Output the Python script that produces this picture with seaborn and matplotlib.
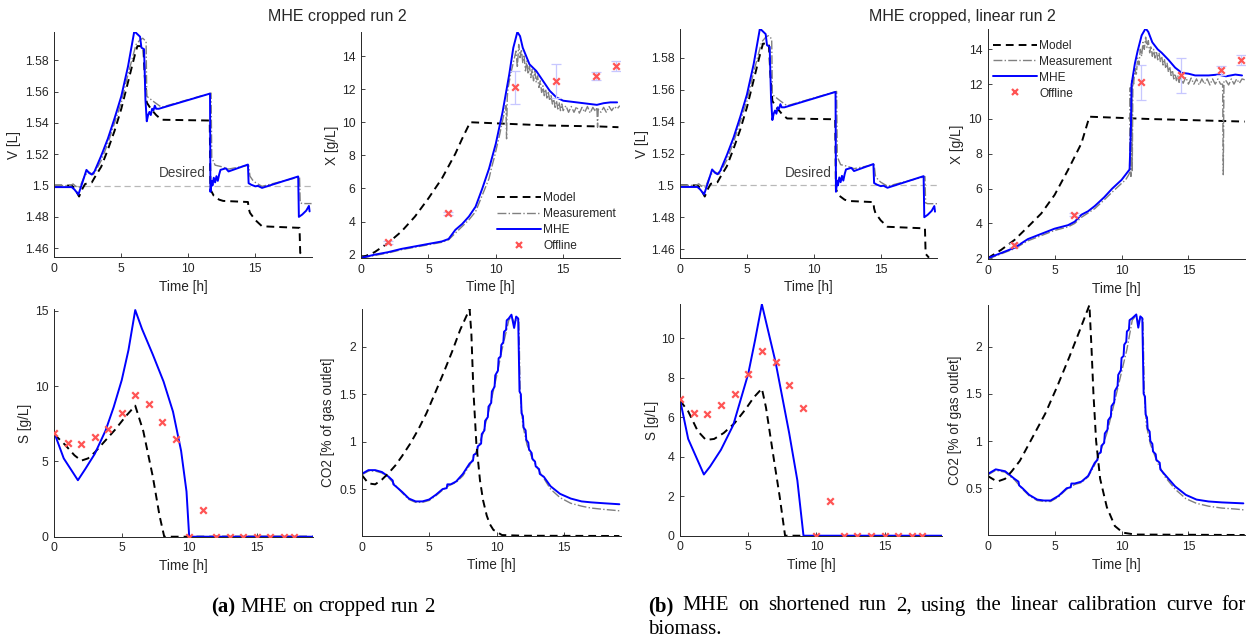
import matplotlib
matplotlib.use("Agg")
import numpy as np
import pandas as pd
import seaborn as sns
import matplotlib.pyplot as plt
from matplotlib.lines import Line2D
from matplotlib.ticker import FuncFormatter

# ---------------- DATA ----------------
# Volume (same in both runs)
v_mhe_t = [0, 1.3, 1.5, 1.8, 2.1, 2.4, 2.6, 2.8, 3.0, 3.5, 4.0, 4.5, 5.0, 5.5, 5.97, 6.4, 6.5, 6.7, 6.8, 6.9,
           7.0, 7.1, 7.2, 7.3, 7.4, 7.5, 7.6, 7.8, 11.62, 11.65, 11.75, 11.8, 11.9, 12.0, 12.1, 12.2, 12.3,
           12.4, 12.8, 13.0, 14.45, 14.5, 14.7, 15.0, 15.2, 15.5, 18.2, 18.25, 18.5, 18.8, 19.0, 19.05]
v_mhe = [1.499, 1.499, 1.4975, 1.4943, 1.502, 1.510, 1.508, 1.507, 1.509, 1.519, 1.530, 1.543, 1.557, 1.576,
         1.5985, 1.595, 1.588, 1.587, 1.555, 1.541, 1.545, 1.547, 1.545, 1.549, 1.548, 1.551, 1.549, 1.549,
         1.5587, 1.496, 1.503, 1.500, 1.505, 1.502, 1.506, 1.503, 1.507, 1.510, 1.511, 1.509, 1.5134, 1.5015,
         1.5005, 1.4995, 1.4998, 1.4985, 1.5058, 1.480, 1.4815, 1.484, 1.487, 1.4835]
v_meas_t = [0, 1.2, 1.4, 1.6, 1.9, 2.2, 2.5, 2.7, 2.9, 3.0, 3.5, 4.0, 4.5, 5.0, 5.5, 6.1, 6.4, 6.6, 6.85, 6.9,
            7.2, 7.5, 8.0, 11.7, 11.75, 11.85, 12.0, 12.5, 13.0, 14.5, 14.6, 14.8, 15.0, 15.5, 18.3, 18.35,
            18.5, 19.2]
v_meas = [1.5, 1.5, 1.501, 1.4995, 1.499, 1.505, 1.509, 1.508, 1.507, 1.508, 1.516, 1.527, 1.540, 1.553,
          1.571, 1.590, 1.593, 1.594, 1.592, 1.557, 1.555, 1.553, 1.550, 1.559, 1.518, 1.516, 1.513, 1.512,
          1.5105, 1.513, 1.506, 1.5035, 1.502, 1.4995, 1.5055, 1.489, 1.4885, 1.4885]
v_mod_t = [0, 1.3, 1.5, 1.85, 2.1, 2.3, 2.8, 3.0, 3.5, 4.0, 4.5, 5.0, 5.5, 6.0, 6.2, 6.64, 6.75, 6.9, 7.2,
           7.6, 8.0, 11.6, 11.65, 11.9, 12.3, 12.6, 14.45, 14.5, 14.6, 15.0, 15.5, 18.3, 18.35, 18.6]
v_mod = [1.5, 1.5, 1.4985, 1.493, 1.498, 1.501, 1.502, 1.505, 1.512, 1.523, 1.535, 1.549, 1.566, 1.583,
         1.589, 1.589, 1.570, 1.553, 1.549, 1.545, 1.542, 1.5415, 1.4975, 1.4935, 1.491, 1.4902, 1.4895,
         1.4855, 1.4826, 1.478, 1.474, 1.473, 1.457, 1.4546]
v_desired = 1.5

# Biomass, run (a)
xa_mod_t = [0, 1, 2, 3, 4, 5, 6, 7, 7.5, 8.1, 11, 14, 17.5, 19.1]
xa_mod = [1.8, 2.15, 2.7, 3.4, 4.3, 5.4, 6.6, 8.1, 9.0, 10.0, 9.9, 9.8, 9.75, 9.7]
xa_mhe_t = [0, 1, 2, 3, 4, 5, 6, 6.5, 7, 7.5, 8, 8.5, 9, 9.5, 10, 10.5, 11, 11.3, 11.6, 11.8, 12, 12.5,
            13, 13.5, 14, 14.5, 15, 16, 17, 17.5, 18, 18.5, 19]
xa_mhe = [1.8, 2.0, 2.15, 2.35, 2.5, 2.65, 2.8, 2.95, 3.5, 3.85, 4.3, 4.9, 6.0, 7.2, 8.7, 10.6, 12.9, 14.5,
          15.45, 15.2, 14.5, 13.5, 13.1, 12.5, 11.9, 11.5, 11.3, 11.2, 11.1, 11.05, 11.15, 11.2, 11.2]
xa_meas_t = [0, 1, 2, 3, 4, 5, 6, 6.5, 7, 7.5, 8, 8.5, 9, 9.3, 9.5, 9.7, 9.9, 10.1, 10.3, 10.5, 10.75, 10.8,
             10.85, 10.9, 11.1, 11.3, 11.5, 11.6, 11.7, 11.8, 11.9, 12.0, 12.1, 12.2, 12.3, 12.4, 12.5, 12.6,
             12.7, 12.8, 12.9, 13.0, 13.1, 13.2, 13.3, 13.4, 13.5, 13.6, 13.7, 13.8, 13.9, 14.0, 14.1, 14.2,
             14.3, 14.4, 14.5, 14.6, 14.7, 14.8, 14.9, 15.0, 15.2, 15.4, 15.6, 15.8, 16.0, 16.2, 16.4, 16.6,
             16.8, 17.0, 17.2, 17.4, 17.5, 17.55, 17.6, 17.8, 18.0, 18.2, 18.4, 18.6, 18.8, 19.0, 19.2]
xa_meas = [1.8, 1.95, 2.1, 2.3, 2.45, 2.6, 2.75, 2.9, 3.3, 3.7, 4.1, 4.6, 5.6, 6.2, 6.6, 7.3, 7.9, 8.6, 9.3,
           10.1, 11.0, 9.0, 11.5, 12.0, 12.9, 13.6, 14.3, 13.3, 14.7, 13.9, 14.4, 13.6, 14.0, 13.1, 13.7,
           12.9, 13.4, 12.7, 13.2, 12.5, 13.1, 12.4, 12.8, 12.1, 12.5, 11.8, 12.2, 11.6, 12.0, 11.4, 11.8,
           11.3, 11.6, 11.1, 11.4, 10.9, 11.3, 10.8, 11.2, 10.7, 11.1, 10.7, 11.0, 10.6, 10.95, 10.6, 10.95,
           10.55, 10.9, 10.6, 10.95, 10.55, 10.9, 10.65, 10.9, 9.7, 10.8, 10.6, 10.9, 10.6, 10.95, 10.7,
           10.95, 10.8, 11.0]

# Biomass, run (b)
xb_mod_t = [0, 1, 2, 3, 4, 5, 6, 7, 7.6, 12, 19.2]
xb_mod = [2.0, 2.48, 3.05, 3.8, 4.57, 5.64, 7.07, 8.6, 10.13, 10.0, 9.85]
xb_mhe_t = [0, 1, 2, 3, 4, 5, 6, 6.5, 7.0, 7.5, 8, 8.7, 9.3, 10, 10.6, 10.7, 10.75, 11.0, 11.2, 11.5, 11.8,
            12.0, 12.3, 12.7, 13.0, 13.5, 14.0, 14.5, 15.0, 15.5, 16.5, 17.2, 17.8, 18.5, 19.0]
xb_mhe = [2.0, 2.3, 2.6, 3.1, 3.4, 3.7, 3.9, 4.1, 4.5, 4.7, 5.0, 5.5, 6.0, 6.5, 7.1, 9.5, 12.0, 13.2, 13.9,
          14.8, 15.2, 15.0, 14.4, 14.0, 13.8, 13.4, 12.95, 12.65, 12.6, 12.5, 12.5, 12.55, 12.45, 12.55, 12.5]
xb_meas_t = [0, 1, 2, 3, 4, 5, 6, 6.5, 7, 7.5, 8, 8.7, 9.3, 10, 10.3, 10.5, 10.6, 10.65, 10.7, 10.75, 10.8,
             10.85, 10.9, 11.0, 11.1, 11.2, 11.3, 11.4, 11.5, 11.6, 11.7, 11.8, 11.9, 12.0, 12.1, 12.2, 12.3,
             12.4, 12.5, 12.6, 12.7, 12.8, 12.9, 13.0, 13.1, 13.2, 13.3, 13.4, 13.5, 13.6, 13.7, 13.8, 13.9,
             14.0, 14.1, 14.2, 14.3, 14.4, 14.6, 14.8, 15.0, 15.2, 15.4, 15.6, 15.8, 16.0, 16.2, 16.4, 16.6,
             16.8, 17.0, 17.2, 17.4, 17.55, 17.6, 17.65, 17.8, 18.0, 18.2, 18.4, 18.6, 18.8, 19.0, 19.2]
xb_meas = [1.95, 2.25, 2.55, 3.0, 3.3, 3.6, 3.8, 4.0, 4.35, 4.6, 4.85, 5.35, 5.8, 6.3, 6.5, 6.75, 6.9, 11.8,
           6.7, 12.2, 7.0, 12.5, 12.0, 12.9, 12.5, 13.5, 13.1, 14.0, 13.6, 14.4, 14.0, 14.7, 14.1, 14.5,
           13.8, 14.2, 13.6, 14.0, 13.5, 13.9, 13.4, 13.8, 13.3, 13.6, 13.1, 13.45, 12.9, 13.2, 12.7, 13.0,
           12.5, 12.8, 12.3, 12.6, 12.2, 12.5, 12.1, 12.45, 12.05, 12.4, 12.0, 12.35, 12.0, 12.3, 11.95,
           12.3, 12.0, 12.3, 11.95, 12.3, 12.0, 12.3, 12.0, 12.0, 6.8, 12.2, 12.2, 11.95, 12.3, 12.0, 12.3,
           12.05, 12.3, 12.25]

# Offline biomass samples (both runs)
x_off_t = [2.0, 6.45, 11.45, 14.45, 17.4, 18.9]
x_off = [2.75, 4.5, 12.1, 12.5, 12.8, 13.4]
x_off_err = [0.1, 0.1, 1.0, 1.03, 0.25, 0.3]

# Substrate offline samples (both runs)
s_off_t = [0, 1, 2, 3, 4, 5, 6, 7, 8, 9, 10, 11, 12, 13, 14, 15, 16, 17, 17.75]
s_off = [6.9, 6.2, 6.18, 6.6, 7.17, 8.2, 9.38, 8.8, 7.63, 6.46, 0, 1.76, 0, 0, 0, 0, 0, 0, 0]

# Substrate, run (a)
sa_mhe_t = [0, 0.7, 1.75, 2.3, 3.0, 3.8, 4.4, 5.0, 5.5, 6.0, 6.5, 7.3, 8.1, 8.8, 9.4, 9.8, 10.0, 19.2]
sa_mhe = [6.9, 5.2, 3.75, 4.5, 5.5, 7.05, 8.6, 10.4, 12.4, 15.05, 13.8, 12.1, 10.3, 8.3, 5.7, 3.0, 0.0, 0.0]
sa_mod_t = [0, 0.8, 1.5, 2.0, 2.5, 3.0, 3.7, 4.5, 5.3, 6.0, 6.6, 7.3, 7.8, 8.15, 10.0, 19.2]
sa_mod = [6.8, 6.1, 5.4, 5.05, 5.2, 5.6, 6.3, 7.1, 8.0, 8.7, 7.0, 4.0, 1.4, 0.0, 0.0, 0.0]

# Substrate, run (b)
sb_mhe_t = [0, 0.6, 1.75, 2.2, 3.0, 3.9, 5.0, 5.5, 6.0, 7.0, 8.0, 8.6, 9.05, 19.2]
sb_mhe = [6.9, 4.9, 3.1, 3.5, 4.35, 5.6, 8.2, 9.9, 11.72, 8.8, 5.2, 2.8, 0.0, 0.0]
sb_mod_t = [0, 0.6, 1.3, 1.9, 2.5, 3.2, 4.0, 4.8, 5.4, 6.0, 6.3, 6.85, 7.3, 7.7, 9.05]
sb_mod = [6.85, 6.3, 5.3, 4.85, 4.9, 5.2, 5.7, 6.4, 7.0, 7.45, 6.5, 4.0, 2.0, 0.0, 0.0]

# CO2, run (a)
ca_mod_t = [0, 0.5, 1.0, 1.5, 2.0, 2.5, 3.0, 3.6, 4.2, 4.8, 5.4, 6.05, 6.7, 7.3, 8.0, 8.13, 8.28, 8.5, 8.77,
            9.0, 9.27, 9.5, 9.76, 10.4, 12, 19.1]
ca_mod = [0.65, 0.56, 0.55, 0.6, 0.67, 0.75, 0.85, 0.98, 1.13, 1.3, 1.5, 1.72, 1.95, 2.18, 2.4, 2.14, 1.54,
          0.98, 0.59, 0.38, 0.22, 0.13, 0.07, 0.015, 0.008, 0.005]
ca_mhe_t = [0, 0.5, 1.0, 1.5, 2.0, 2.3, 2.35, 2.6, 3.0, 3.5, 4.0, 4.5, 5.0, 5.5, 6.0, 6.3, 6.35, 6.6, 7.0,
            7.5, 8.0, 8.25, 8.3, 8.55, 8.6, 8.85, 8.9, 9.1, 9.15, 9.35, 9.4, 9.6, 9.65, 9.85, 9.9, 10.1,
            10.15, 10.3, 10.35, 10.5, 10.55, 10.7, 10.75, 10.9, 11.1, 11.3, 11.45, 11.6, 11.7, 11.8, 11.85,
            11.95, 12.0, 12.15, 12.2, 12.35, 12.4, 12.6, 12.65, 12.85, 12.9, 13.15, 13.2, 13.5, 14.0, 14.7,
            15.5, 16.3, 17.0, 18.0, 19.1]
ca_mhe = [0.66, 0.70, 0.70, 0.68, 0.63, 0.59, 0.55, 0.52, 0.47, 0.40, 0.37, 0.37, 0.39, 0.44, 0.50, 0.51,
          0.55, 0.55, 0.58, 0.66, 0.77, 0.80, 0.86, 0.88, 0.95, 0.98, 1.08, 1.12, 1.22, 1.26, 1.37, 1.41,
          1.53, 1.58, 1.70, 1.75, 1.88, 1.90, 2.02, 2.05, 2.16, 2.18, 2.28, 2.30, 2.34, 2.2, 2.32, 2.3, 1.53,
          1.50, 1.30, 1.27, 1.15, 1.12, 1.02, 0.99, 0.92, 0.88, 0.82, 0.79, 0.74, 0.71, 0.66, 0.63, 0.53,
          0.45, 0.40, 0.37, 0.36, 0.35, 0.34]
ca_meas_t = [0, 0.5, 1.0, 1.5, 2.0, 2.5, 3.0, 3.5, 4.0, 4.5, 5.0, 5.5, 6.0, 6.5, 7.0, 7.5, 8.0, 8.5, 9.0,
             9.5, 10.0, 10.4, 10.9, 11.1, 11.3, 11.5, 11.65, 11.75, 11.95, 12.25, 12.65, 13.25, 14.0, 14.7,
             15.5, 16.3, 17.0, 18.0, 19.2]
ca_meas = [0.65, 0.69, 0.69, 0.67, 0.62, 0.54, 0.46, 0.39, 0.36, 0.36, 0.38, 0.43, 0.49, 0.54, 0.57, 0.64,
           0.75, 0.9, 1.09, 1.37, 1.69, 1.97, 2.28, 2.33, 2.25, 2.3, 2.29, 1.5, 1.17, 0.97, 0.82, 0.67, 0.5,
           0.41, 0.35, 0.32, 0.30, 0.285, 0.27]

# CO2, run (b)
cb_mod_t = [0, 0.7, 1.3, 1.8, 2.4, 3.2, 4.3, 5.2, 6.1, 6.9, 7.6, 7.75, 7.9, 8.1, 8.4, 8.9, 9.5, 10.1, 11,
            19.2]
cb_mod = [0.63, 0.57, 0.6, 0.68, 0.79, 1.0, 1.29, 1.58, 1.89, 2.18, 2.44, 2.0, 1.5, 1.0, 0.6, 0.3, 0.1,
          0.03, 0.01, 0.005]
cb_mhe_t = [0, 0.6, 1.3, 2.0, 2.3, 2.35, 2.6, 3.1, 3.7, 4.2, 4.7, 5.3, 5.9, 6.2, 6.25, 6.5, 7.0, 7.5, 8.0,
            8.2, 8.25, 8.45, 8.5, 8.7, 8.75, 8.95, 9.0, 9.2, 9.25, 9.45, 9.5, 9.7, 9.75, 9.95, 10.0, 10.15,
            10.2, 10.35, 10.4, 10.55, 10.6, 10.8, 11.1, 11.25, 11.4, 11.55, 11.65, 11.75, 11.8, 11.9, 11.95,
            12.1, 12.15, 12.3, 12.35, 12.55, 12.6, 12.85, 12.9, 13.2, 14.0, 14.8, 15.6, 16.5, 17.5, 19.1]
cb_mhe = [0.65, 0.70, 0.68, 0.60, 0.57, 0.53, 0.50, 0.43, 0.38, 0.37, 0.37, 0.42, 0.50, 0.51, 0.55, 0.55,
          0.57, 0.63, 0.77, 0.80, 0.86, 0.88, 0.95, 0.98, 1.08, 1.12, 1.22, 1.26, 1.37, 1.41, 1.53, 1.58,
          1.70, 1.75, 1.88, 1.90, 2.02, 2.05, 2.16, 2.18, 2.28, 2.30, 2.34, 2.2, 2.32, 2.3, 1.5, 1.47, 1.28,
          1.25, 1.13, 1.10, 1.0, 0.97, 0.89, 0.86, 0.8, 0.77, 0.7, 0.65, 0.52, 0.43, 0.38, 0.36, 0.35, 0.34]
cb_meas_t = [0, 0.6, 1.3, 2.0, 2.6, 3.1, 3.7, 4.2, 4.7, 5.3, 5.9, 6.5, 7.0, 7.5, 8.0, 8.4, 8.9, 9.4, 9.9,
             10.4, 10.8, 11.1, 11.25, 11.4, 11.6, 11.7, 11.85, 12.15, 12.65, 13.25, 14.0, 14.8, 15.6, 16.5,
             17.5, 18.5, 19.2]
cb_meas = [0.64, 0.69, 0.67, 0.59, 0.49, 0.42, 0.37, 0.36, 0.36, 0.41, 0.49, 0.54, 0.56, 0.62, 0.75, 0.88,
           1.08, 1.37, 1.67, 1.97, 2.28, 2.33, 2.25, 2.3, 2.29, 1.5, 1.17, 0.97, 0.78, 0.62, 0.49, 0.39,
           0.34, 0.31, 0.29, 0.28, 0.27]

titles = ["MHE cropped run 2", "MHE cropped, linear run 2"]
legend_labels = ["Model", "Measurement", "MHE", "Offline"]
cap_a = ["(a)", "MHE", "on", "cropped", "run", "2"]
cap_b1 = ["(b)", "MHE", "on", "shortened", "run", "2,", "using", "the", "linear", "calibration", "curve", "for"]
cap_b2 = ["biomass."]

# ---------------- STYLE ----------------
sns.set_theme(style="ticks")
plt.rcParams["font.family"] = ["Liberation Sans", "DejaVu Sans"]
TXT = "#262626"
C_MOD = "black"
C_MEAS = (0.5, 0.5, 0.5)
C_MHE = (0.0, 0.0, 1.0)
C_OFF = (1.0, 0.33, 0.33)
C_ERR = (0.78, 0.78, 1.0)

W, H = 1254, 644
fig = plt.figure(figsize=(W / 100, H / 100), dpi=100)


def add_ax(left, top, width, bottom):
    return fig.add_axes([left / W, 1 - bottom / H, width / W, (bottom - top) / H])


def line(ax, t, y, kind):
    df = pd.DataFrame({"t": t, "y": y})
    if kind == "mod":
        sns.lineplot(data=df, x="t", y="y", ax=ax, color=C_MOD, lw=1.4, dashes=False,
                     sort=False, estimator=None, linestyle=(0, (4, 2.6)))
    elif kind == "meas":
        sns.lineplot(data=df, x="t", y="y", ax=ax, color=C_MEAS, lw=1.0, sort=False,
                     estimator=None, linestyle="-.")
    else:
        sns.lineplot(data=df, x="t", y="y", ax=ax, color=C_MHE, lw=1.4, sort=False, estimator=None)


def offline(ax, t, y, err=None):
    if err is not None:
        ax.errorbar(t, y, yerr=err, fmt="none", ecolor=C_ERR, elinewidth=0.9, capsize=3.5,
                    capthick=0.9, zorder=3)
    sns.scatterplot(x=t, y=y, ax=ax, marker="x", color=C_OFF, s=22, linewidth=1.6, zorder=4)


fmt = FuncFormatter(lambda v, p: "%g" % round(v, 6))


def style(ax, ylim, yticks, ylabel, ylab_px, ax_left, ax_w, ax_h):
    ax.set_xlim(0, 19.2)
    ax.set_ylim(*ylim)
    ax.set_xticks([0, 5, 10, 15])
    ax.set_yticks(yticks)
    ax.yaxis.set_major_formatter(fmt)
    ax.xaxis.set_major_formatter(fmt)
    for s in ["top", "right"]:
        ax.spines[s].set_visible(False)
    for s in ["left", "bottom"]:
        ax.spines[s].set_color(TXT)
        ax.spines[s].set_linewidth(0.7)
    ax.tick_params(direction="in", length=3, width=0.6, colors=TXT, labelsize=8.8, pad=4)
    ax.set_xlabel("Time [h]", fontsize=9.8, color=TXT)
    ax.set_ylabel(ylabel, fontsize=9.8, color=TXT)
    ax.xaxis.set_label_coords(0.5, -29.5 / ax_h)
    ax.xaxis.label.set_va("center")
    ax.yaxis.set_label_coords((ylab_px - ax_left) / ax_w, 0.5)
    ax.yaxis.label.set_va("center")
    ax.grid(False)


# axes geometry (px): left, top, width, bottom
geo = {
    1: (54.3, 32, 257.3, 257), 2: (361, 32, 258.8, 258),
    3: (54.3, 309.3, 259, 536.7), 4: (361.7, 309, 259, 536),
    5: (680, 29.3, 257, 258), 6: (987.7, 29.3, 257, 259.3),
    7: (680, 304.3, 262, 535.7), 8: (987.7, 305, 257, 535),
}
axs = {k: add_ax(*v) for k, v in geo.items()}
ylab_x = {1: 14, 2: 331.6, 3: 25, 4: 328, 5: 642, 6: 957, 7: 652, 8: 955}

# Volume panels
for k in (1, 5):
    ax = axs[k]
    ax.axhline(v_desired, color=(0.72, 0.72, 0.72), lw=0.9, ls=(0, (5, 3)), zorder=1)
    line(ax, v_mod_t, v_mod, "mod")
    line(ax, v_meas_t, v_meas, "meas")
    line(ax, v_mhe_t, v_mhe, "mhe")
    ax.text(11.3, 1.5033, "Desired", ha="right", va="bottom", fontsize=9.8, color="#404040")

# Biomass panels
for k, (mt, m, qt, q, ht, h) in {2: (xa_mod_t, xa_mod, xa_meas_t, xa_meas, xa_mhe_t, xa_mhe),
                                 6: (xb_mod_t, xb_mod, xb_meas_t, xb_meas, xb_mhe_t, xb_mhe)}.items():
    ax = axs[k]
    line(ax, mt, m, "mod")
    line(ax, qt, q, "meas")
    line(ax, ht, h, "mhe")
    offline(ax, x_off_t, x_off, x_off_err)

# Substrate panels
for k, (mt, m, ht, h) in {3: (sa_mod_t, sa_mod, sa_mhe_t, sa_mhe), 7: (sb_mod_t, sb_mod, sb_mhe_t, sb_mhe)}.items():
    ax = axs[k]
    line(ax, mt, m, "mod")
    line(ax, ht, h, "mhe")
    offline(ax, s_off_t, s_off)

# CO2 panels
for k, (mt, m, qt, q, ht, h) in {4: (ca_mod_t, ca_mod, ca_meas_t, ca_meas, ca_mhe_t, ca_mhe),
                                 8: (cb_mod_t, cb_mod, cb_meas_t, cb_meas, cb_mhe_t, cb_mhe)}.items():
    ax = axs[k]
    line(ax, qt, q, "meas")
    line(ax, ht, h, "mhe")
    line(ax, mt, m, "mod")

vt = [1.46, 1.48, 1.5, 1.52, 1.54, 1.56, 1.58]
xt = [2, 4, 6, 8, 10, 12, 14]
cfg = {
    1: ((1.4544, 1.598), vt, "V [L]"),
    2: ((1.8, 15.45), xt, "X [g/L]"),
    3: ((0, 15.1), [0, 5, 10, 15], "S [g/L]"),
    4: ((0.005, 2.4), [0.5, 1, 1.5, 2], "CO2 [% of gas outlet]"),
    5: ((1.4544, 1.598), vt, "V [L]"),
    6: ((1.94, 15.15), xt, "X [g/L]"),
    7: ((0, 11.72), [0, 2, 4, 6, 8, 10], "S [g/L]"),
    8: ((0.005, 2.44), [0.5, 1, 1.5, 2], "CO2 [% of gas outlet]"),
}
for k, (yl, yt, lab) in cfg.items():
    l, t, w, b = geo[k]
    style(axs[k], yl, yt, lab, ylab_x[k], l, w, b - t)

# Legends
handles = [
    Line2D([], [], color=C_MOD, lw=1.4, linestyle=(0, (4, 2.6))),
    Line2D([], [], color=C_MEAS, lw=1.0, linestyle="-."),
    Line2D([], [], color=C_MHE, lw=1.4),
    Line2D([], [], color=C_OFF, marker="x", lw=0, markersize=5, mew=1.6),
]
leg_kw = dict(frameon=False, fontsize=8.6, handlelength=3.7, handletextpad=0.2, labelspacing=0.33,
              borderpad=0.2, borderaxespad=0.0)
l2 = axs[2].legend(handles, legend_labels, loc="lower left", bbox_to_anchor=(0.515, 0.015), **leg_kw)
l6 = axs[6].legend(handles, legend_labels, loc="upper left", bbox_to_anchor=(0.01, 0.965), **leg_kw)
for lg in (l2, l6):
    for tx in lg.get_texts():
        tx.set_color(TXT)

# Titles
fig.text(337 / W, 1 - 17 / H, titles[0], ha="center", va="center", fontsize=11.5, color=TXT)
fig.text(962 / W, 1 - 16 / H, titles[1], ha="center", va="center", fontsize=11.5, color=TXT)

# Captions (Times-like serif), first word bold
renderer = fig.canvas.get_renderer()
CAP_FS = 15.0
SERIF = ["Liberation Serif", "DejaVu Serif"]


def word_widths(words):
    ws = []
    for i, w in enumerate(words):
        t = fig.text(0, 0, w, fontsize=CAP_FS, family=SERIF,
                     fontweight="bold" if (i == 0 and w.startswith("(")) else "normal")
        ws.append(t.get_window_extent(renderer).width)
        t.remove()
    return ws


def place_words(words, x0, y, x1=None):
    ws = word_widths(words)
    sp = word_widths(["a b"])[0] - word_widths(["ab"])[0]
    gap = sp if x1 is None else (x1 - x0 - sum(ws)) / (len(words) - 1)
    x = x0
    for i, (w, wd) in enumerate(zip(words, ws)):
        fig.text(x / W, 1 - y / H, w, fontsize=CAP_FS, family=SERIF, va="center", ha="left",
                 fontweight="bold" if (i == 0 and w.startswith("(")) else "normal", color="black")
        x += wd + gap


place_words(cap_a, 211, 607)
place_words(cap_b1, 648, 606, 1246)
place_words(cap_b2, 648, 630)

fig.savefig("out.png", dpi=100)
